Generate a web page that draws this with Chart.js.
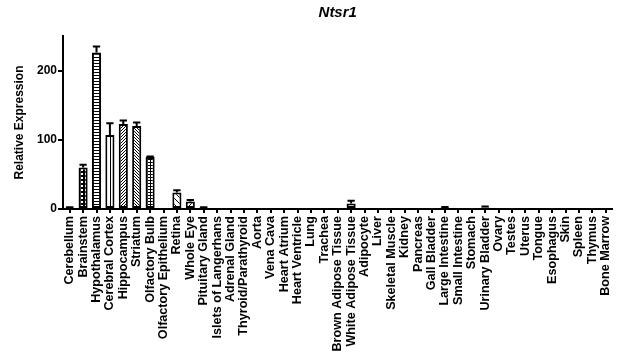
<!DOCTYPE html>
<html lang="en">
<head>
  <meta charset="UTF-8" />
  <title>Ntsr1</title>
  <script src="https://cdn.jsdelivr.net/npm/chart.js"></script>
  <style>
    html, body { margin: 0; padding: 0; background: #fff; }
    #wrap { width: 624px; height: 362px; }
  </style>
</head>
<body>
  <div id="wrap"><canvas id="ntsr1Chart" width="624" height="362"></canvas></div>

  <script>
    const tissues = [
      'Cerebellum', 'Brainstem', 'Hypothalamus', 'Cerebral Cortex', 'Hippocampus', 'Striatum',
      'Olfactory Bulb', 'Olfactory Epithelium', 'Retina', 'Whole Eye', 'Pituitary Gland',
      'Islets of Langerhans', 'Adrenal Gland', 'Thyroid/Parathyroid', 'Aorta', 'Vena Cava',
      'Heart Atrium', 'Heart Ventricle', 'Lung', 'Trachea', 'Brown Adipose Tissue',
      'White Adipose Tissue', 'Adipocyte', 'Liver', 'Skeletal Muscle', 'Kidney', 'Pancreas',
      'Gall Bladder', 'Large Intestine', 'Small Intestine', 'Stomach', 'Urinary Bladder',
      'Ovary', 'Testes', 'Uterus', 'Tongue', 'Esophagus', 'Skin', 'Spleen', 'Thymus', 'Bone Marrow'
    ];
    const expression = [
      2, 60, 226, 107, 123, 120, 75, 0.4, 24, 11, 2,
      0.5, 0.3, 0.3, 0.3, 0.3, 0.3, 0.3, 0.3, 0.3, 0.3,
      8, 0.3, 0.3, 0.3, 0.3, 0.3, 0.3, 2, 0.3, 0.3, 2,
      0.3, 0.3, 0.3, 0.3, 0.3, 0.3, 0.3, 0.3, 0.3
    ];
    const sem = [
      0.5, 4, 9, 17, 5, 5, 1, 0, 3, 2, 0.5,
      0, 0, 0, 0, 0, 0, 0, 0, 0, 0,
      4, 0, 0, 0, 0, 0, 0, 1, 0, 0, 1.5,
      0, 0, 0, 0, 0, 0, 0, 0, 0
    ];
    const yTicks = [0, 100, 200];

    // small fill patterns like the prism bars
    const ctx = document.getElementById('ntsr1Chart').getContext('2d');
    function pat(size, draw) {
      const c = document.createElement('canvas');
      c.width = c.height = size;
      const g = c.getContext('2d');
      g.fillStyle = '#fff';
      g.fillRect(0, 0, size, size);
      g.fillStyle = '#000';
      g.strokeStyle = '#000';
      g.lineWidth = 1;
      draw(g, size);
      return ctx.createPattern(c, 'repeat');
    }
    const white = '#fff';
    const checker = pat(4, (g) => { g.fillRect(0, 0, 4, 4); g.fillStyle = '#fff'; g.fillRect(1, 1, 2, 2); });
    const hLines = pat(3, (g) => { g.fillRect(0, 0, 3, 1); });
    const vLines = pat(4, (g) => { g.fillRect(2, 0, 1, 4); });
    const grid = pat(3, (g) => { g.fillRect(0, 0, 3, 1); g.fillRect(0, 0, 1, 3); });
    const diagUp = (s) => pat(s, (g) => {
      g.beginPath(); g.moveTo(0, s); g.lineTo(s, 0); g.moveTo(-1, 1); g.lineTo(1, -1);
      g.moveTo(s - 1, s + 1); g.lineTo(s + 1, s - 1); g.stroke();
    });
    const diagDown = (s) => pat(s, (g) => {
      g.beginPath(); g.moveTo(0, 0); g.lineTo(s, s); g.moveTo(-1, s - 1); g.lineTo(1, s + 1);
      g.moveTo(s - 1, -1); g.lineTo(s + 1, 1); g.stroke();
    });
    const fills = tissues.map(() => white);
    fills[1] = checker;
    fills[2] = hLines;
    fills[3] = vLines;
    fills[4] = diagUp(3);
    fills[5] = diagDown(3);
    fills[6] = grid;
    fills[8] = diagDown(6);
    fills[9] = diagUp(5);

    const errorBars = {
      id: 'errorBars',
      afterDatasetsDraw(chart) {
        const meta = chart.getDatasetMeta(0);
        const y = chart.scales.y;
        const c = chart.ctx;
        c.save();
        c.strokeStyle = '#000';
        c.lineWidth = 2;
        meta.data.forEach((bar, i) => {
          if (!sem[i]) return;
          const top = y.getPixelForValue(expression[i] + sem[i]);
          const half = bar.width * 0.4;
          c.beginPath();
          c.moveTo(bar.x, bar.y);
          c.lineTo(bar.x, top);
          c.moveTo(bar.x - half, top);
          c.lineTo(bar.x + half, top);
          c.stroke();
        });
        c.restore();
      }
    };

    const font = { family: 'Liberation Sans, Arial, sans-serif', weight: 'bold', size: 12 };
    const labelFont = { family: font.family, weight: 'bold', size: 12.6 };

    new Chart(ctx, {
      type: 'bar',
      data: {
        labels: tissues,
        datasets: [{
          data: expression,
          backgroundColor: fills,
          borderColor: '#000',
          borderWidth: 2,
          borderSkipped: false,
          categoryPercentage: 1,
          barPercentage: 0.68
        }]
      },
      options: {
        responsive: false,
        animation: false,
        layout: { padding: { left: 0, right: 10, top: 0, bottom: 0 } },
        plugins: {
          legend: { display: false },
          tooltip: { enabled: false },
          title: {
            display: true,
            fullSize: false,
            text: 'Ntsr1',
            color: '#000',
            font: { family: font.family, weight: 'bold', style: 'italic', size: 15 },
            padding: { top: 4, bottom: 14 }
          }
        },
        scales: {
          x: {
            grid: { display: true, drawOnChartArea: false, drawTicks: true, tickLength: 4, color: '#000', lineWidth: 2, offset: false },
            border: { display: true, color: '#000', width: 2 },
            ticks: { autoSkip: false, maxRotation: 90, minRotation: 90, color: '#000', font: labelFont, padding: 3 },
            afterFit(scale) { scale.height = 153; }
          },
          y: {
            min: 0,
            max: 250,
            grid: { display: true, drawOnChartArea: false, drawTicks: true, tickLength: 5, color: '#000', lineWidth: 2 },
            border: { display: true, color: '#000', width: 2 },
            ticks: { color: '#000', font: font, padding: 1, stepSize: 100 },
            afterBuildTicks(scale) { scale.ticks = yTicks.map(v => ({ value: v })); },
            title: { display: true, text: 'Relative Expression', color: '#000', font: font, padding: { top: 12, bottom: 0 } },
            afterFit(scale) { scale.width = 63; }
          }
        }
      },
      plugins: [errorBars]
    });
  </script>
</body>
</html>
